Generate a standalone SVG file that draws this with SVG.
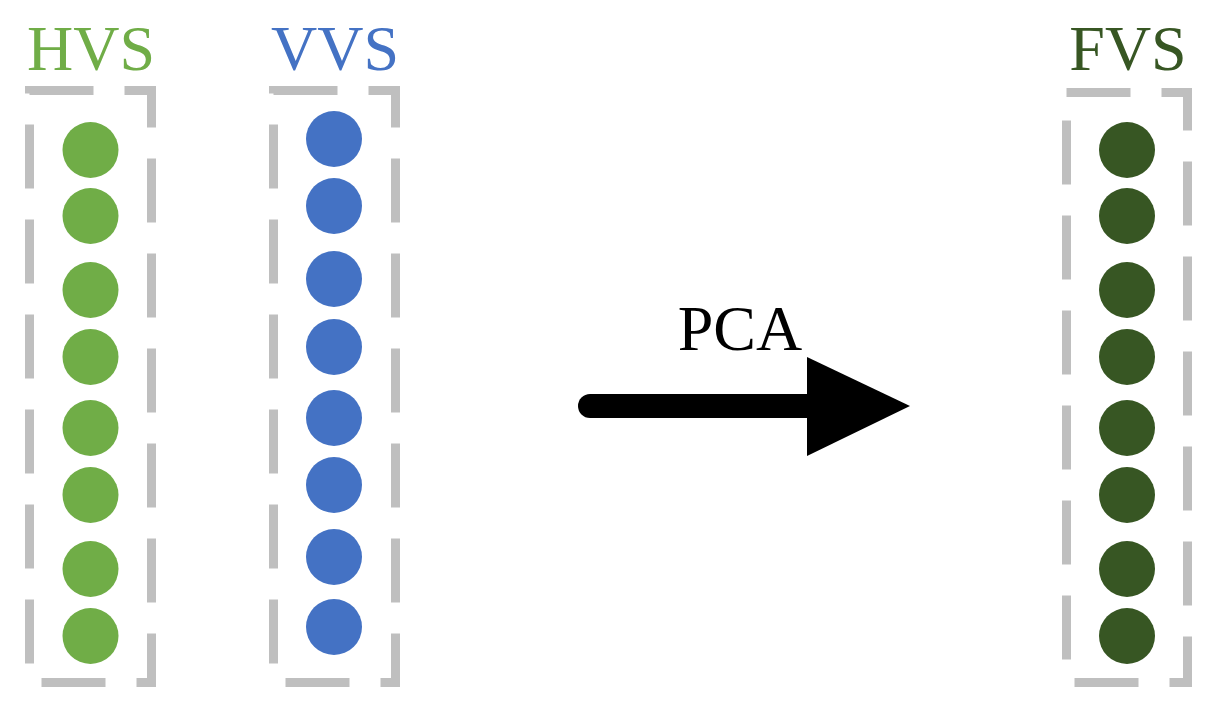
<svg xmlns="http://www.w3.org/2000/svg" width="1219" height="713" viewBox="0 0 1219 713">
<style>
.box{fill:none;stroke:#bfbfbf;stroke-width:9;stroke-dasharray:64 31}
.t{font-family:"Liberation Serif",serif;font-size:64px;text-anchor:middle}
.h{fill:#70ad47}.v{fill:#4472c4}.f{fill:#375623}
</style>
<rect width="1219" height="713" fill="#fff"/>
<g id="hvs">
<text class="t h" x="91" y="70">HVS</text>
<rect class="box" x="29.5" y="90.5" width="122" height="592"/>
<g class="h"><circle cx="90.5" cy="150" r="28"/><circle cx="90.5" cy="216" r="28"/><circle cx="90.5" cy="290" r="28"/><circle cx="90.5" cy="357" r="28"/><circle cx="90.5" cy="428" r="28"/><circle cx="90.5" cy="495" r="28"/><circle cx="90.5" cy="569" r="28"/><circle cx="90.5" cy="636" r="28"/></g>
</g>
<g id="vvs">
<text class="t v" x="335" y="70">VVS</text>
<rect class="box" x="273.5" y="90.5" width="122" height="592"/>
<g class="v"><circle cx="334" cy="139" r="28"/><circle cx="334" cy="206" r="28"/><circle cx="334" cy="279" r="28"/><circle cx="334" cy="347" r="28"/><circle cx="334" cy="418" r="28"/><circle cx="334" cy="485" r="28"/><circle cx="334" cy="557" r="28"/><circle cx="334" cy="627" r="28"/></g>
</g>
<g id="fvs">
<text class="t f" x="1128" y="70">FVS</text>
<rect class="box" x="1066.5" y="92.5" width="121" height="590"/>
<g class="f"><circle cx="1127" cy="150" r="28"/><circle cx="1127" cy="216" r="28"/><circle cx="1127" cy="290" r="28"/><circle cx="1127" cy="357" r="28"/><circle cx="1127" cy="428" r="28"/><circle cx="1127" cy="495" r="28"/><circle cx="1127" cy="569" r="28"/><circle cx="1127" cy="636" r="28"/></g>
</g>
<g id="connectors">
<line x1="590" y1="406" x2="812" y2="406" stroke="#000" stroke-width="24" stroke-linecap="round"/>
<polygon points="807,357 910,406 807,456" fill="#000"/>
<text class="t" x="740" y="350" fill="#000" font-size="60">PCA</text>
</g>
</svg>
